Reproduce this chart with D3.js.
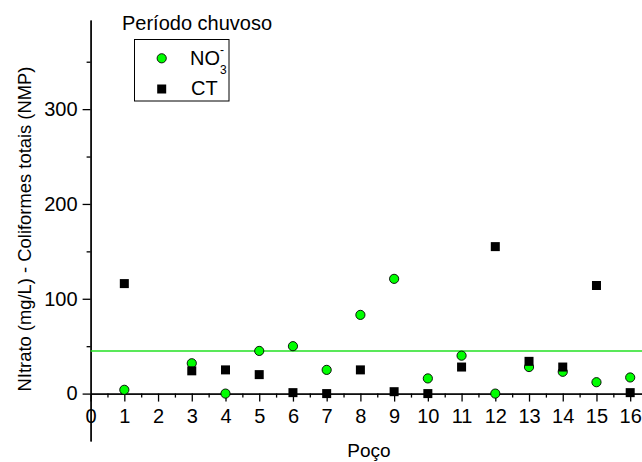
<!DOCTYPE html>
<html>
<head>
<meta charset="utf-8">
<script src="https://cdn.jsdelivr.net/npm/d3@7"></script>
<style>
  body { margin: 0; background: #fff; }
  svg { display: block; font-family: "Liberation Sans", Arial, sans-serif; }
  .axis text { font-size: 20px; fill: #000; font-family: "Liberation Sans", Arial, sans-serif; }
  .axis path, .axis line { stroke: #000; stroke-width: 1.3; }
</style>
</head>
<body>
<svg width="642" height="462"></svg>
<script>
// Data (well 2 has no sample)
const wells = [1, 3, 4, 5, 6, 7, 8, 9, 10, 11, 12, 13, 14, 15, 16];
const no3 = [4, 32, 0, 45, 50, 25, 83, 121, 16, 40, 0, 28, 23, 12, 17];
const ct = [116, 24, 25, 20, 1, 0, 25, 2, 0, 28, 155, 34, 28, 114, 1];
const limitNO3 = 45;

const xTicks = d3.range(0, 17);
const xMinor = d3.range(0.5, 16, 1);
const yTicks = [0, 100, 200, 300];
const yMinor = [50, 150, 250, 350];

const svg = d3.select('svg');

// Scales
const x = d3.scaleLinear().domain([0, 16.35]).range([90.6, 642]);
const y = d3.scaleLinear().domain([-50, 394]).range([441, 20]);

// X axis sits on y = 0
svg.append('g')
  .attr('class', 'axis')
  .attr('transform', `translate(0,${y(0)})`)
  .call(d3.axisBottom(x).tickValues(xMinor).tickSize(4).tickSizeOuter(0).tickFormat(''));

svg.append('g')
  .attr('class', 'axis')
  .attr('transform', `translate(0,${y(0)})`)
  .call(d3.axisBottom(x).tickValues(xTicks).tickSize(8).tickSizeOuter(0).tickPadding(7).tickFormat(d3.format('d')));

// Y axis sits on x = 0
svg.append('g')
  .attr('class', 'axis')
  .attr('transform', `translate(${x(0)},0)`)
  .call(d3.axisLeft(y).tickValues(yMinor).tickSize(4).tickSizeOuter(0).tickFormat(''));

svg.append('g')
  .attr('class', 'axis')
  .attr('transform', `translate(${x(0)},0)`)
  .call(d3.axisLeft(y).tickValues(yTicks).tickSize(8).tickSizeOuter(0).tickPadding(5).tickFormat(d3.format('d')));

// Nitrate limit line
svg.append('line')
  .attr('x1', x(0))
  .attr('x2', x(16.35))
  .attr('y1', y(limitNO3))
  .attr('y2', y(limitNO3))
  .attr('stroke', '#22e022')
  .attr('stroke-width', 1.5);

// NO3 points
svg.append('g')
  .selectAll('circle')
  .data(wells.map((w, i) => ({w: w, v: no3[i]}))).enter()
  .append('circle')
  .attr('cx', d => x(d.w))
  .attr('cy', d => y(d.v))
  .attr('r', 4.6)
  .attr('fill', '#00ff00')
  .attr('stroke', '#000')
  .attr('stroke-width', 0.9);

// CT points
const sq = 9;
svg.append('g')
  .selectAll('rect')
  .data(wells.map((w, i) => ({w: w, v: ct[i]}))).enter()
  .append('rect')
  .attr('x', d => x(d.w) - sq / 2)
  .attr('y', d => y(d.v) - sq / 2)
  .attr('width', sq)
  .attr('height', sq)
  .attr('fill', '#000');

// Axis titles
svg.append('text')
  .attr('x', 369)
  .attr('y', 457)
  .attr('text-anchor', 'middle')
  .attr('font-size', 19)
  .text('Poço');

svg.append('text')
  .attr('transform', 'translate(31,229) rotate(-90)')
  .attr('text-anchor', 'middle')
  .attr('font-size', 18.4)
  .text('NItrato (mg/L) - Coliformes totais (NMP)');

// Legend
svg.append('text')
  .attr('x', 122)
  .attr('y', 30)
  .attr('font-size', 20)
  .text('Período chuvoso');

svg.append('rect')
  .attr('x', 134.5)
  .attr('y', 39.5)
  .attr('width', 94.5)
  .attr('height', 61.5)
  .attr('fill', 'none')
  .attr('stroke', '#000')
  .attr('stroke-width', 1);

svg.append('circle')
  .attr('cx', 161.7)
  .attr('cy', 58.3)
  .attr('r', 4.6)
  .attr('fill', '#00ff00')
  .attr('stroke', '#000')
  .attr('stroke-width', 0.9);

svg.append('rect')
  .attr('x', 161.7 - sq / 2)
  .attr('y', 89 - sq / 2)
  .attr('width', sq)
  .attr('height', sq)
  .attr('fill', '#000');

const no3Label = svg.append('text')
  .attr('x', 190)
  .attr('y', 65)
  .attr('font-size', 20);
no3Label.append('tspan').text('NO');
no3Label.append('tspan').attr('font-size', 12).attr('dy', -11).text('-');
no3Label.append('tspan').attr('font-size', 12).attr('x', 220).attr('dy', 20).text('3');

svg.append('text')
  .attr('x', 191)
  .attr('y', 95)
  .attr('font-size', 20)
  .text('CT');
</script>
</body>
</html>
